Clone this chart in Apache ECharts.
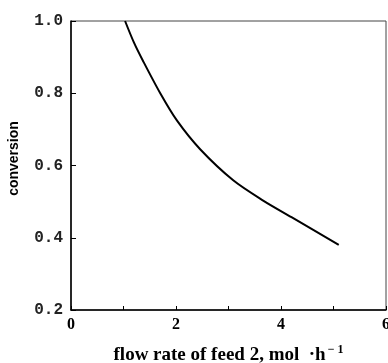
<!DOCTYPE html>
<html><head><meta charset="utf-8">
<script src="https://cdn.jsdelivr.net/npm/echarts@6/dist/echarts.min.js"></script>
<style>html,body{margin:0;padding:0;background:#fff}#c{width:388px;height:363px}</style>
</head><body><div id="c"></div>
<script>
const flowRate = [1.03, 1.2, 1.37, 1.7, 2.02, 2.46, 3.09, 3.66, 4.2, 5.1];
const conversion = [1.0, 0.94, 0.89, 0.80, 0.724, 0.645, 0.559, 0.503, 0.457, 0.38];
const xTicks = [0, 2, 4, 6];
const yTicks = [0.2, 0.4, 0.6, 0.8, 1.0];

const chart = echarts.init(document.getElementById('c'));
chart.setOption({
  animation: false,
  grid: { left: 71, right: 2, top: 21, bottom: 53, show: true, borderColor: '#444', borderWidth: 1,
          containLabel: false, outerBoundsMode: 'none' },
  xAxis: {
    type: 'value', min: 0, max: 6, interval: 1,
    axisLine: { show: true, lineStyle: { color: '#000', width: 1.5 } },
    axisTick: { show: true, inside: true, length: 4, lineStyle: { color: '#000' } },
    splitLine: { show: false },
    axisLabel: { color: '#000', fontFamily: 'Liberation Serif', fontWeight: 'bold', fontSize: 16, margin: 7,
      formatter: v => xTicks.includes(v) ? String(v) : '' },
    name: '{a|flow rate of feed 2, mol  ·h}{s|− 1}',
    nameLocation: 'middle', nameGap: 34,
    nameTextStyle: { rich: {
      a: { fontFamily: 'Liberation Serif', fontWeight: 'bold', fontSize: 19, color: '#000' },
      s: { fontFamily: 'Liberation Serif', fontWeight: 'bold', fontSize: 12, color: '#000', verticalAlign: 'top', padding: [0,0,10,2] } } }
  },
  yAxis: {
    type: 'value', min: 0.2, max: 1.0, interval: 0.2,
    axisLine: { show: true, lineStyle: { color: '#000', width: 1.5 } },
    axisTick: { show: true, inside: true, length: 5, lineStyle: { color: '#000' } },
    splitLine: { show: false },
    axisLabel: { color: '#222', fontFamily: 'Liberation Mono', fontWeight: 'bold', fontSize: 16, margin: 8, padding: [6, 0, 0, 0],
      formatter: v => { const t = yTicks.find(y => Math.abs(y - v) < 1e-6); return t !== undefined ? t.toFixed(1) : ''; } },
    name: 'conversion', nameLocation: 'middle', nameGap: 50,
    nameTextStyle: { fontFamily: 'Liberation Sans', fontWeight: 'bold', fontSize: 14, color: '#000', padding: [0, 0, 0, 14] }
  },
  series: [{
    type: 'line', data: flowRate.map((x, i) => [x, conversion[i]]),
    smooth: 0.3, showSymbol: false, lineStyle: { color: '#000', width: 2 }
  }]
});
</script></body></html>
